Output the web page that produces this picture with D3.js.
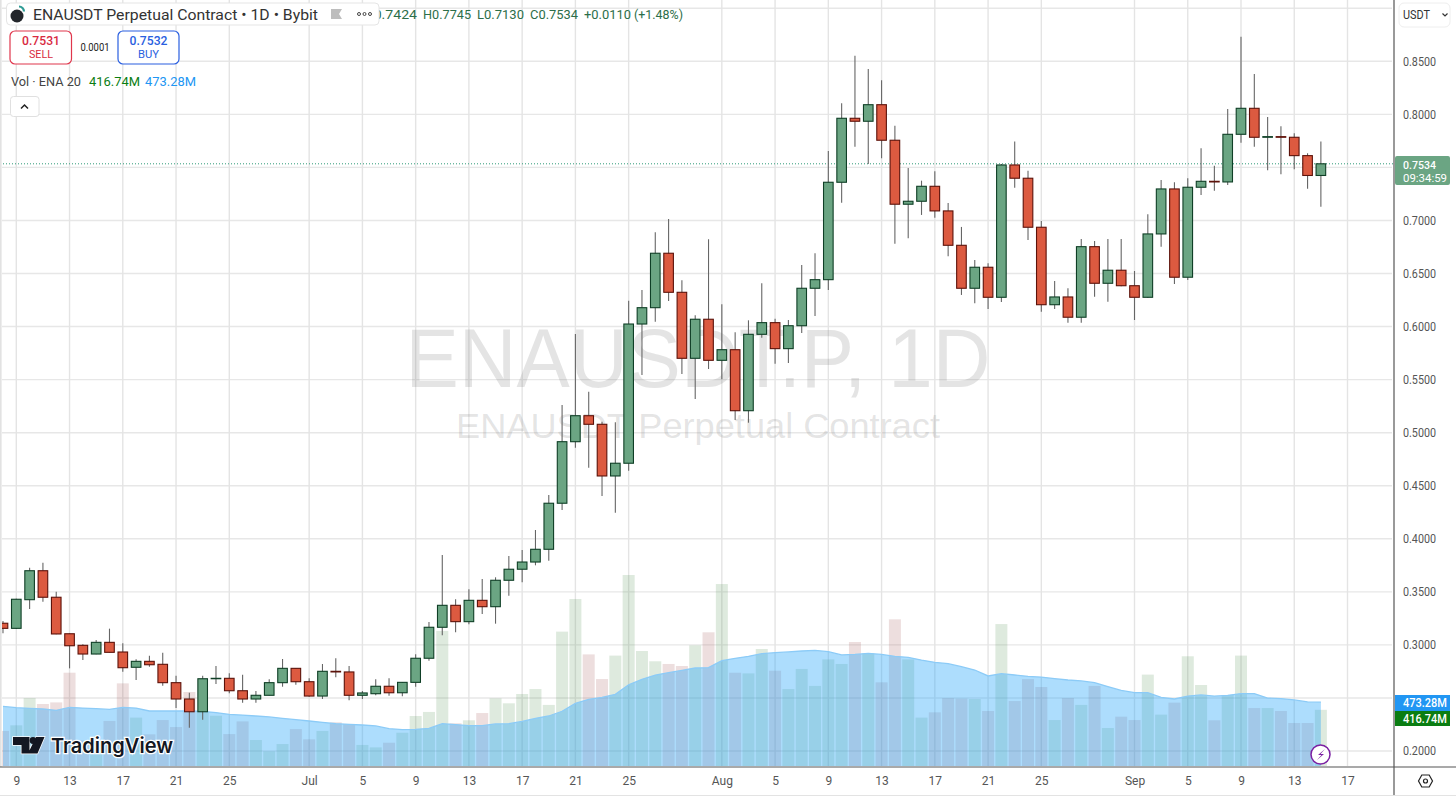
<!DOCTYPE html>
<html><head><meta charset="utf-8">
<script src="https://cdn.jsdelivr.net/npm/d3@7"></script>
<style>html,body{margin:0;padding:0;background:#fff;overflow:hidden}svg{display:block}text{font-family:Roboto,sans-serif}</style>
</head><body><div id="chart"></div>
<script>
// One candle per UTC day, starting on 8 June
const firstDay = Date.UTC(2024, 5, 8);
const opens = [.3204,.3156,.3426,.3699,.3449,.3105,.2996,.2914,.3024,.2933,.2789,.2845,.2817,.2644,.2490,.2370,.2681,.2685,.2568,.2490,.2525,.2644,.2779,
.2653,.2518,.2751,.2745,.2525,.2540,.2610,.2549,.2647,.2874,.3166,.3373,.3219,.3420,.3360,.3609,.3713,.3781,.3901,.4335,.4915,.5160,.5079,.4592,.4712,.6024,.6178,.6691,.6323,.5701,.6069,
.5682,.5782,.5207,.5927,.6037,.5792,.6008,.6361,.6442,.7360,.7963,.7935,.8091,.7756,.7153,.7181,.7322,.7090,.6766,.6361,.6559,.6276,.7523,.7398,.6936,.6206,.6279,.6088,.6753,.6408,.6531,
.6385,.6276,.6873,.7297,.6465,.7313,.7369,.7363,.7812,.8057,.7784,.7790,.7784,.7611,.7424];
const highs = [.3225,.3436,.3728,.3775,.3501,.3107,.3006,.3046,.3153,.3015,.2864,.2898,.2926,.2710,.2549,.2710,.2801,.2732,.2719,.2566,.2676,.2867,.2781,
.2685,.2820,.2874,.2801,.2566,.2676,.2685,.2650,.2911,.3216,.3847,.3430,.3524,.3621,.3637,.3838,.3894,.4083,.4413,.5261,.5930,.5386,.5104,.5098,.6244,.6345,.6889,.7014,.6436,.6106,.6823,
.6210,.5946,.6059,.6408,.6074,.6062,.6581,.6691,.7655,.8104,.8553,.8428,.8321,.7893,.7495,.7375,.7464,.7165,.6939,.6628,.6597,.7532,.7743,.7469,.6995,.6430,.6361,.6826,.6807,.6826,.6826,
.6524,.7058,.7382,.7360,.7398,.7680,.7516,.8051,.8732,.8381,.7975,.7888,.7822,.7633,.7745];
const lows = [.3109,.3150,.3338,.3407,.3100,.2779,.2858,.2912,.2928,.2747,.2669,.2795,.2615,.2405,.2220,.2295,.2631,.2544,.2455,.2455,.2523,.2606,.2625,
.2512,.2490,.2695,.2478,.2490,.2525,.2521,.2516,.2606,.2851,.3090,.3119,.3194,.3291,.3200,.3464,.3590,.3750,.3794,.4271,.4859,.4670,.4403,.4246,.4642,.5544,.6046,.6241,.5553,.5318,.5600,
.5503,.5120,.5094,.5895,.5650,.5657,.5940,.6100,.6345,.7168,.7695,.7532,.7586,.6781,.6832,.7052,.7026,.6663,.6298,.6220,.6166,.6232,.7309,.6816,.6140,.6166,.6037,.6037,.6282,.6235,.6380,
.6062,.6270,.6753,.6401,.6439,.7240,.7281,.7335,.7733,.7695,.7473,.7435,.7483,.7300,.7130];
const closes = [.3156,.3430,.3699,.3449,.3103,.2992,.2914,.3024,.2930,.2785,.2845,.2813,.2644,.2490,.2370,.2681,.2685,.2568,.2490,.2525,.2644,.2779,.2653,
.2518,.2751,.2745,.2525,.2547,.2610,.2549,.2647,.2874,.3166,.3373,.3219,.3420,.3360,.3609,.3713,.3781,.3901,.4335,.4915,.5160,.5079,.4592,.4712,.6024,.6178,.6691,.6323,.5701,.6069,.5682,
.5782,.5207,.5927,.6037,.5792,.6008,.6361,.6442,.7360,.7963,.7935,.8091,.7756,.7153,.7181,.7322,.7090,.6766,.6361,.6559,.6276,.7523,.7398,.6936,.6206,.6279,.6088,.6753,.6408,.6531,.6385,
.6276,.6873,.7297,.6465,.7313,.7369,.7363,.7812,.8057,.7784,.7790,.7784,.7611,.7424,.7534];
// Volume in millions
const volumes = [260,302,504,460,472,692,190,178,334,613,359,235,341,289,549,403,373,237,331,193,109,163,274,
198,260,324,312,156,138,173,247,371,401,1002,317,339,393,502,465,534,571,453,997,1239,828,645,819,1417,853,777,757,742,895,992,
1350,692,687,868,707,571,720,594,791,757,920,836,621,1088,791,359,398,504,500,497,408,1053,482,645,586,341,504,453,594,282,366,
341,678,381,470,814,601,339,527,819,430,430,408,319,319,416.74];
const volumeMA = [443,433,428,423,413,435,430,425,420,435,430,408,408,408,408,406,396,383,378,371,364,354,344,
334,324,314,309,304,297,277,270,272,279,314,307,299,299,312,314,331,354,371,406,465,495,509,532,603,643,675,692,710,727,730,
781,799,814,833,841,846,853,858,848,824,828,836,828,814,806,786,769,759,737,712,668,685,675,665,660,648,638,631,618,589,561,
544,544,509,497,519,527,519,524,537,537,504,500,490,475,473.28];
const gridPrices = [.20,.25,.30,.35,.40,.45,.50,.55,.60,.65,.70,.75,.80,.85,.90];
// 0.25, 0.75 and 0.90 sit behind the tags and the currency button in the reference
const priceLabels = [.20,.30,.35,.40,.45,.50,.55,.60,.65,.70,.80,.85];
const timeTicks = [[5,9,"9"],[5,13,"13"],[5,17,"17"],[5,21,"21"],[5,25,"25"],[6,1,"Jul"],[6,5,"5"],[6,9,"9"],[6,13,"13"],[6,17,"17"],[6,21,"21"],[6,25,"25"],
[7,1,"Aug"],[7,5,"5"],[7,9,"9"],[7,13,"13"],[7,17,"17"],[7,21,"21"],[7,25,"25"],[8,1,"Sep"],[8,5,"5"],[8,9,"9"],[8,13,"13"],[8,17,"17"]];
const tickDates = timeTicks.map(t => new Date(Date.UTC(2024, t[0], t[1])));
const tickNames = new Map(timeTicks.map((t,i) => [+tickDates[i], t[2]]));

const rows = opens.map((o,i) => ({date:new Date(firstDay + i*864e5), o, h:highs[i], l:lows[i], c:closes[i], v:volumes[i], ma:volumeMA[i]}));
const last = rows[rows.length-1];

const W=1456,H=801, plotR=1394, plotB=767;
const x = d3.scaleUtc().domain([new Date(Date.UTC(2024,5,9)), new Date(Date.UTC(2024,8,17))]).range([16.3,1347.5]);
const y = d3.scaleLinear().domain([.2,.85]).range([751,61.3]);
const yVol = d3.scaleLinear().domain([0,1417]).range([766,575]);
const GREEN="#6ba583",RED="#dc5a40",GREEN_D="#0f3f26",RED_D="#5c120a";
const svg=d3.select("#chart").append("svg").attr("width",W).attr("height",H).style("background","#fff");
svg.append("defs").append("clipPath").attr("id","plot").append("rect").attr("x",2).attr("y",0).attr("width",plotR-2).attr("height",plotB-1);

function label(str,px,py,o={}){
  const t=svg.append("text").attr("x",px).attr("y",py).text(str)
    .attr("font-size",o.size||12).attr("fill",o.fill||"#333").attr("text-anchor",o.anchor||"start")
    .attr("font-weight",o.weight||400);
  if(o.family)t.style("font-family",o.family);
  if(o.width)t.attr("textLength",o.width).attr("lengthAdjust","spacingAndGlyphs");
  return t;
}

// grid
const plot=svg.append("g").attr("clip-path","url(#plot)");
plot.append("g").selectAll("line").data(gridPrices).join("line")
  .attr("x1",0).attr("x2",plotR-2).attr("y1",d=>y(d)).attr("y2",d=>y(d)).attr("stroke","#e7e7e7").attr("stroke-width",1.4);
plot.append("g").selectAll("line").data(tickDates).join("line")
  .attr("x1",d=>x(d)).attr("x2",d=>x(d)).attr("y1",0).attr("y2",plotB).attr("stroke","#e4e4e4").attr("stroke-width",1.4);
svg.append("rect").attr("x",0).attr("y",0).attr("width",1.6).attr("height",plotB).attr("fill","#e2e2e2");

// watermark
const wm="rgba(120,120,120,.2)";
plot.append("text").text("ENAUSDT.P, 1D").attr("x",698).attr("y",387).attr("text-anchor","middle").attr("font-size",83).attr("fill",wm)
  .style("font-family","'Liberation Sans',sans-serif").attr("textLength",585).attr("lengthAdjust","spacingAndGlyphs");
plot.append("text").text("ENAUSDT Perpetual Contract").attr("x",698).attr("y",438).attr("text-anchor","middle").attr("font-size",35).attr("fill",wm)
  .style("font-family","'Liberation Sans',sans-serif").attr("textLength",484).attr("lengthAdjust","spacingAndGlyphs");

// volume
const barW=12;
plot.append("g").selectAll("rect").data(rows).join("rect")
  .attr("x",d=>x(d.date)-barW/2).attr("width",barW).attr("y",d=>yVol(d.v)).attr("height",d=>yVol(0)-yVol(d.v))
  .attr("fill",d=>d.c>=d.o?"rgba(70,140,70,.18)":"rgba(150,60,60,.17)");
plot.append("path").datum(rows).attr("fill","rgba(40,165,250,.38)")
  .attr("d",d3.area().x(d=>x(d.date)).y0(yVol(0)).y1(d=>yVol(d.ma)));
plot.append("path").datum(rows).attr("fill","none").attr("stroke","#8ccbf7").attr("stroke-width",1.3)
  .attr("d",d3.line().x(d=>x(d.date)).y(d=>yVol(d.ma)));

// current price line
plot.append("line").attr("x1",0).attr("x2",plotR).attr("y1",y(last.c)).attr("y2",y(last.c))
  .attr("stroke","#2f9a78").attr("stroke-width",1).attr("stroke-dasharray","1 2");

// candles
const candles=plot.append("g").selectAll("g").data(rows).join("g");
candles.append("line").attr("x1",d=>x(d.date)).attr("x2",d=>x(d.date)).attr("y1",d=>y(d.h)).attr("y2",d=>y(d.l))
  .attr("stroke","#666").attr("stroke-width",1.1);
const bodyW=9.6;
candles.append("rect").attr("x",d=>x(d.date)-bodyW/2).attr("width",bodyW)
  .attr("y",d=>y(Math.max(d.o,d.c))).attr("height",d=>Math.max(.3,Math.abs(y(d.o)-y(d.c))))
  .attr("fill",d=>d.c>=d.o?GREEN:RED).attr("stroke",d=>d.c>=d.o?GREEN_D:RED_D).attr("stroke-width",1.1);

// TradingView logo
const logo=svg.append("g");
logo.append("path").attr("d","M13 737h16.5v16.5h-8v-8.5H13z M36 737h8.5l-7 16.5H28z").attr("fill","#131722").attr("stroke","#fff").attr("stroke-width",1.5).attr("paint-order","stroke");
logo.append("circle").attr("cx",33).attr("cy",740.5).attr("r",3.4).attr("fill","#131722");
label("TradingView",51,753,{fill:"#131722",size:20.5,width:122,weight:600,family:"Inter,sans-serif"}).attr("stroke","#fff").attr("stroke-width",2.5).attr("paint-order","stroke");

// axes
const yAxis=d3.axisRight(y).tickValues(priceLabels).tickFormat(d3.format(".4f")).tickSize(0).tickPadding(9);
const ga=svg.append("g").attr("transform",`translate(${plotR},0)`).call(yAxis);
ga.select(".domain").remove();
ga.selectAll("text").attr("font-size",12).attr("fill","#555").attr("textLength",33).attr("lengthAdjust","spacingAndGlyphs");
const xAxis=d3.axisBottom(x).tickValues(tickDates).tickFormat(d=>tickNames.get(+d)).tickSize(0).tickPadding(9);
const gx=svg.append("g").attr("transform",`translate(0,${plotB})`).call(xAxis);
gx.select(".domain").remove();
gx.selectAll("text").attr("font-size",12).attr("fill","#555");
svg.append("line").attr("x1",0).attr("x2",W).attr("y1",plotB).attr("y2",plotB).attr("stroke","#555").attr("stroke-width",1.2);
svg.append("line").attr("x1",plotR).attr("x2",plotR).attr("y1",0).attr("y2",795).attr("stroke","#555").attr("stroke-width",1.2);
svg.append("line").attr("x1",0).attr("x2",W).attr("y1",795.5).attr("y2",795.5).attr("stroke","#e3e3e3").attr("stroke-width",1);

// price tags
svg.append("rect").attr("x",1395).attr("y",156).attr("width",55).attr("height",29).attr("rx",2).attr("fill",GREEN);
label(d3.format(".4f")(last.c),1403,168.5,{fill:"#fff",size:11,width:33,weight:500});
label("09:34:59",1403,181.5,{fill:"#fff",size:11,width:44});
svg.append("rect").attr("x",1395).attr("y",695).attr("width",55).attr("height",16).attr("fill","#2196f3");
label(d3.format(".2f")(last.ma)+"M",1403,707,{fill:"#fff",size:12,width:44,weight:500});
svg.append("rect").attr("x",1395).attr("y",711).attr("width",55).attr("height",15).attr("fill","#0a7d12");
label(d3.format(".2f")(last.v)+"M",1403,722.5,{fill:"#fff",size:12,width:44,weight:500});

// USDT button
svg.append("rect").attr("x",1399).attr("y",3).attr("width",51).attr("height",24).attr("rx",5).attr("fill","#fff").attr("stroke","#eee");
label("USDT",1403,19,{fill:"#333",size:12,width:27});
svg.append("path").attr("d","M1442.5 13.5l2.5 2.5 2.5-2.5").attr("fill","none").attr("stroke","#333").attr("stroke-width",1.2);

// OHLC readout, whose start runs under the header box
const ohlcColor="#2c6e49";
label("O0.7424",364,19,{fill:ohlcColor,size:13,width:53});
label("H0.7745",423,19,{fill:ohlcColor,size:13,width:48});
label("L0.7130",477,19,{fill:ohlcColor,size:13,width:47});
label("C0.7534",530,19,{fill:ohlcColor,size:13,width:48});
label("+0.0110",584,19,{fill:ohlcColor,size:13,width:47});
label("(+1.48%)",634,19,{fill:ohlcColor,size:13,width:49});

// header box
svg.append("rect").attr("x",6.5).attr("y",3).attr("width",372.5).attr("height",22).attr("rx",4).attr("fill","#fff").attr("stroke","#e5e5e5");
svg.append("circle").attr("cx",17).attr("cy",16).attr("r",6.5).attr("fill","#23262b");
svg.append("path").attr("d","M19 6.5a5 5 0 0 1 5 5").attr("fill","none").attr("stroke","#2f9c95").attr("stroke-width",2.2);
label("ENAUSDT Perpetual Contract • 1D • Bybit",33,19.5,{fill:"#333",size:15,width:285});
svg.append("path").attr("d","M331 9h11l-3 5 3 5h-11z").attr("fill","#bdbdbd");
[359,364.5,370].forEach(cx=>svg.append("circle").attr("cx",cx).attr("cy",14).attr("r",1.5).attr("fill","none").attr("stroke","#444").attr("stroke-width",1));

// trade boxes
svg.append("rect").attr("x",10).attr("y",31).attr("width",61.5).attr("height",33).attr("rx",5).attr("fill","#fff").attr("stroke","#e0364c").attr("stroke-width",1.2);
label("0.7531",41,45,{fill:"#d92a3f",size:13,anchor:"middle",width:38,weight:500});
label("SELL",41,58,{fill:"#d92a3f",size:11.5,anchor:"middle",width:24});
label("0.0001",95,50.5,{fill:"#222",size:11,anchor:"middle",width:29});
svg.append("rect").attr("x",118).attr("y",31).attr("width",61).attr("height",33).attr("rx",5).attr("fill","#fff").attr("stroke","#2a5fe0").attr("stroke-width",1.2);
label("0.7532",148.5,45,{fill:"#2a5fe0",size:13,anchor:"middle",width:38,weight:500});
label("BUY",148.5,58,{fill:"#2a5fe0",size:11.5,anchor:"middle",width:21});

// indicator legend
label("Vol · ENA 20",11,85.5,{fill:"#444",size:13,width:70});
label(d3.format(".2f")(last.v)+"M",89,85.5,{fill:"#0a7d12",size:13,width:51});
label(d3.format(".2f")(last.ma)+"M",145,85.5,{fill:"#2196f3",size:13,width:51});
svg.append("rect").attr("x",10.5).attr("y",96.5).attr("width",28.5).attr("height",20).attr("rx",3).attr("fill","#fff").attr("stroke","#e0e0e0");
svg.append("path").attr("d","M21 108.5l3.5-3.5 3.5 3.5").attr("fill","none").attr("stroke","#222").attr("stroke-width",1.5);

// bolt badge
svg.append("circle").attr("cx",1320.5).attr("cy",754.5).attr("r",9.5).attr("fill","#fff").attr("stroke","#7b1fa2").attr("stroke-width",1.5);
svg.append("path").attr("d","M1325 749l-7 6h3.5l-4.5 5 7-6h-3.5z").attr("fill","#7b1fa2");

// settings glyph
svg.append("path").attr("d","M1418.5 781l3.3-6h7.4l3.3 6-3.3 6h-7.4z").attr("fill","none").attr("stroke","#222").attr("stroke-width",1.2);
svg.append("circle").attr("cx",1425.5).attr("cy",781).attr("r",2).attr("fill","none").attr("stroke","#222").attr("stroke-width",1.2);
</script></body></html>
